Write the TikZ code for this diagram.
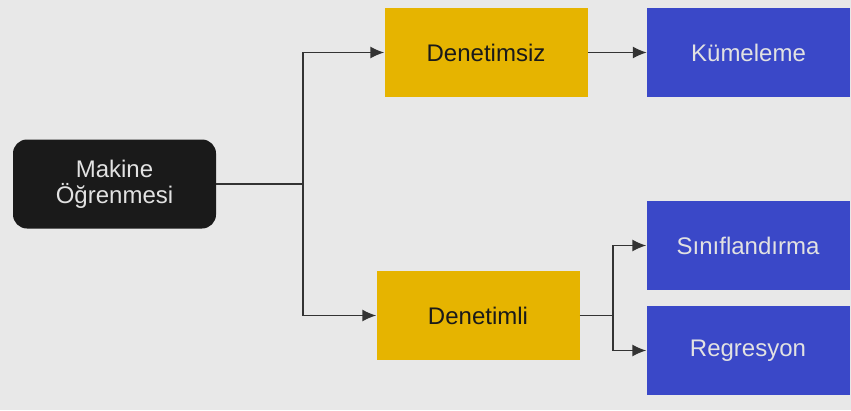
\documentclass[tikz,border=0pt]{standalone}
\usepackage{fontspec}
\setmainfont{Liberation Sans}
\usetikzlibrary{arrows.meta}
\definecolor{bg}{HTML}{E8E8E8}
\definecolor{ylw}{HTML}{E6B400}
\definecolor{blu}{HTML}{3A48C8}
\definecolor{blk}{HTML}{1A1A1A}
\definecolor{lt}{HTML}{E2E2E2}
\definecolor{ln}{HTML}{333333}
\begin{document}
\begin{tikzpicture}[x=1pt,y=-1pt,
  box/.style={minimum width=203pt,minimum height=89pt,inner sep=0pt,font=\fontsize{24}{26}\selectfont,align=center},
  rootbox/.style={box,fill=blk,text=lt,rounded corners=14pt},
  ybox/.style={box,fill=ylw,text=blk},
  bbox/.style={box,fill=blu,text=lt},
  conn/.style={draw=ln,line width=1.4pt,-{Latex[length=14pt,width=12pt]}},
  plain/.style={draw=ln,line width=1.4pt}]
\fill[bg] (0,0) rectangle (851,410);
\useasboundingbox (0,0) rectangle (851,410);
\node[rootbox] (ml) at (114.5,184) {Makine\\Öğrenmesi};
\node[ybox] (uns) at (486,52.5) {Denetimsiz};
\node[ybox] (sup) at (478,315.5) {Denetimli};
\node[bbox] (clu) at (748.5,52.5) {Kümeleme};
\node[bbox] (cls) at (748,245.5) {Sınıflandırma};
\node[bbox] (reg) at (748,350.5) {Regresyon};
\coordinate (j1) at (303,184);
\coordinate (j2) at (613,315.5);
\draw[plain] (ml.east) -- (j1);
\draw[conn] (j1) |- (uns.west);
\draw[conn] (j1) |- (sup.west);
\draw[conn] (uns.east) -- (clu.west);
\draw[plain] (sup.east) -- (j2);
\draw[conn] (j2) |- (cls.west);
\draw[conn] (j2) |- (reg.west);
\end{tikzpicture}
\end{document}
